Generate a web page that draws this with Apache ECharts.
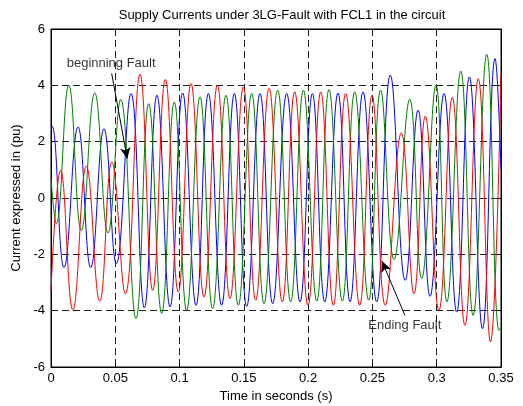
<!DOCTYPE html>
<html>
<head>
<meta charset="utf-8">
<script src="https://cdn.jsdelivr.net/npm/echarts@6/dist/echarts.min.js"></script>
<style>
html,body{margin:0;padding:0;background:#fff;}
#c{width:523px;height:406px;}
</style>
</head>
<body>
<div id="c"></div>
<script>
// Axis ticks
const xTicks = [0, 0.05, 0.1, 0.15, 0.2, 0.25, 0.3, 0.35];
const yTicks = [-6, -4, -2, 0, 2, 4, 6];

// Phase currents: sample times (s) and values (pu), read at peaks/troughs
const blueT = [0, 0.0008, 0.0101, 0.021, 0.0309, 0.0412, 0.0508, 0.0622, 0.0726, 0.0824, 0.0926, 0.1024, 0.1128, 0.1224, 0.1327, 0.1426, 0.1522, 0.1626, 0.1724, 0.1833, 0.1937, 0.2033, 0.2129, 0.2232, 0.2326, 0.2427, 0.2533, 0.2639, 0.2755, 0.2855, 0.2948, 0.3057, 0.3155, 0.3254, 0.3356, 0.3454, 0.35];
const blueV = [2.53, 2.55, -2.47, 2.52, -2.47, 2.46, -2.33, 3.71, -3.9, 3.65, -3.87, 3.73, -3.81, 3.71, -3.81, 3.71, -3.85, 3.71, -3.75, 3.71, -3.69, 3.71, -3.69, 3.73, -3.69, 3.77, -3.69, 4.36, -2.93, 3.12, -3.49, 3.71, -4.05, 4.3, -4.64, 4.95, 1.0];

const greenT = [0, 0.0041, 0.0138, 0.0236, 0.034, 0.0443, 0.0542, 0.0661, 0.076, 0.0861, 0.0959, 0.1055, 0.1159, 0.1257, 0.1361, 0.1457, 0.1561, 0.1657, 0.1763, 0.1864, 0.1963, 0.2067, 0.2162, 0.2266, 0.2362, 0.2471, 0.2564, 0.2668, 0.279, 0.2883, 0.2994, 0.3079, 0.3187, 0.3283, 0.3389, 0.3485, 0.35];
const greenV = [0.7, -0.91, 4.0, -1.15, 3.73, -1.24, 3.5, -4.28, 3.35, -4.1, 3.41, -3.99, 3.59, -3.93, 3.65, -3.81, 3.71, -3.75, 3.83, -3.69, 3.83, -3.66, 3.85, -3.66, 3.77, -3.63, 3.83, -2.18, 3.5, -2.86, 4.0, -3.69, 4.51, -4.17, 5.1, -4.7, -4.6];

const redT = [0, 0.0075, 0.017, 0.0275, 0.0379, 0.0473, 0.0578, 0.0692, 0.0791, 0.0889, 0.099, 0.1089, 0.119, 0.1294, 0.1392, 0.1496, 0.1592, 0.1696, 0.1799, 0.1895, 0.1999, 0.2098, 0.2196, 0.2292, 0.2401, 0.2497, 0.26, 0.2725, 0.2823, 0.2911, 0.3017, 0.3121, 0.3219, 0.3323, 0.3418, 0.35];
const redV = [-3.3, 0.98, -3.97, 1.13, -3.66, 1.28, -3.4, 4.39, -3.28, 4.21, -3.34, 4.06, -3.52, 4.0, -3.57, 3.94, -3.63, 3.89, -3.69, 3.77, -3.81, 3.77, -3.81, 3.71, -3.81, 3.65, -3.81, 2.31, -3.4, 2.9, -3.99, 3.57, -4.52, 4.24, -5.11, 4.4];

// Annotations (data coordinates)
const annoText = ['beginning Fault', 'Ending Fault'];
const annoTextPos = [[0.0122, 4.78], [0.2468, -4.52]];
const arrowFrom = [[0.0472, 4.42], [0.2753, -4.17]];
const arrowTo = [[0.0593, 1.40], [0.2574, -2.24]];

const FONT = "'Liberation Sans', Arial, Helvetica, sans-serif";
const FS = 13;
const zip = (t, v) => t.map((x, i) => [x, v[i]]);

const chart = echarts.init(document.getElementById('c'), null, {renderer: 'canvas'});

const gridLine = {show: true, lineStyle: {color: '#222', width: 1, type: [7, 4]}};
const option = {
  animation: false,
  backgroundColor: '#fff',
  title: {
    text: 'Supply Currents under 3LG-Fault with FCL1 in the circuit',
    left: 277, top: 4, textAlign: 'center',
    textStyle: {fontFamily: FONT, fontSize: FS, fontWeight: 'normal', color: '#000'}
  },
  grid: {left: 51, right: 22, top: 29, bottom: 39, show: true, borderColor: '#000', borderWidth: 1,
         containLabel: false, outerBoundsMode: 'none'},
  xAxis: [{
    type: 'value', min: 0, max: 0.35, interval: 0.05,
    name: 'Time in seconds (s)', nameLocation: 'middle', nameGap: 22,
    nameTextStyle: {fontFamily: FONT, fontSize: FS, color: '#000'},
    axisLine: {show: true, onZero: false, lineStyle: {color: '#000'}},
    axisTick: {show: true, inside: true, length: 4, lineStyle: {color: '#000'}},
    axisLabel: {fontFamily: FONT, fontSize: FS, color: '#000', margin: 5,
      formatter: v => { const m = xTicks.find(t => Math.abs(t - v) < 1e-9); return m === undefined ? '' : String(m); }},
    splitLine: gridLine
  }, {
    type: 'value', min: 0, max: 0.35, interval: 0.05, position: 'top',
    axisLine: {show: true, onZero: false, lineStyle: {color: '#000'}},
    axisTick: {show: true, inside: true, length: 4, lineStyle: {color: '#000'}},
    axisLabel: {show: false}, splitLine: {show: false}
  }],
  yAxis: [{
    type: 'value', min: -6, max: 6, interval: 2,
    name: 'Current expressed in (pu)', nameLocation: 'middle', nameGap: 26,
    nameTextStyle: {fontFamily: FONT, fontSize: FS, color: '#000'},
    axisLine: {show: true, onZero: false, lineStyle: {color: '#000'}},
    axisTick: {show: true, inside: true, length: 4, lineStyle: {color: '#000'}},
    axisLabel: {fontFamily: FONT, fontSize: FS, color: '#000', margin: 6,
      formatter: v => { const m = yTicks.find(t => Math.abs(t - v) < 1e-9); return m === undefined ? '' : String(m); }},
    splitLine: gridLine
  }, {
    type: 'value', min: -6, max: 6, interval: 2, position: 'right',
    axisLine: {show: true, onZero: false, lineStyle: {color: '#000'}},
    axisTick: {show: true, inside: true, length: 4, lineStyle: {color: '#000'}},
    axisLabel: {show: false}, splitLine: {show: false}
  }],
  series: [
    {type: 'line', name: 'Ia', data: zip(blueT, blueV), smooth: 0.45, showSymbol: false,
     lineStyle: {color: '#0000ff', width: 1}, itemStyle: {color: '#0000ff'}, silent: true},
    {type: 'line', name: 'Ib', data: zip(greenT, greenV), smooth: 0.45, showSymbol: false,
     lineStyle: {color: '#008000', width: 1}, itemStyle: {color: '#008000'}, silent: true},
    {type: 'line', name: 'Ic', data: zip(redT, redV), smooth: 0.45, showSymbol: false,
     lineStyle: {color: '#ff0000', width: 1}, itemStyle: {color: '#ff0000'}, silent: true},
    {type: 'scatter', name: 'annotations', silent: true, symbolSize: 0, z: 10,
     data: annoText.map((s, i) => ({name: s, value: annoTextPos[i]})),
     label: {show: true, position: 'right', distance: 0, formatter: '{b}',
       fontFamily: FONT, fontSize: FS, color: '#000'},
     markLine: {silent: true, symbol: ['none', 'arrow'], symbolSize: [8, 11],
       lineStyle: {color: '#000', width: 1, type: 'solid'}, label: {show: false},
       data: arrowFrom.map((p, i) => [{coord: p}, {coord: arrowTo[i]}])}
    }
  ]
};
chart.setOption(option);
</script>
</body>
</html>
